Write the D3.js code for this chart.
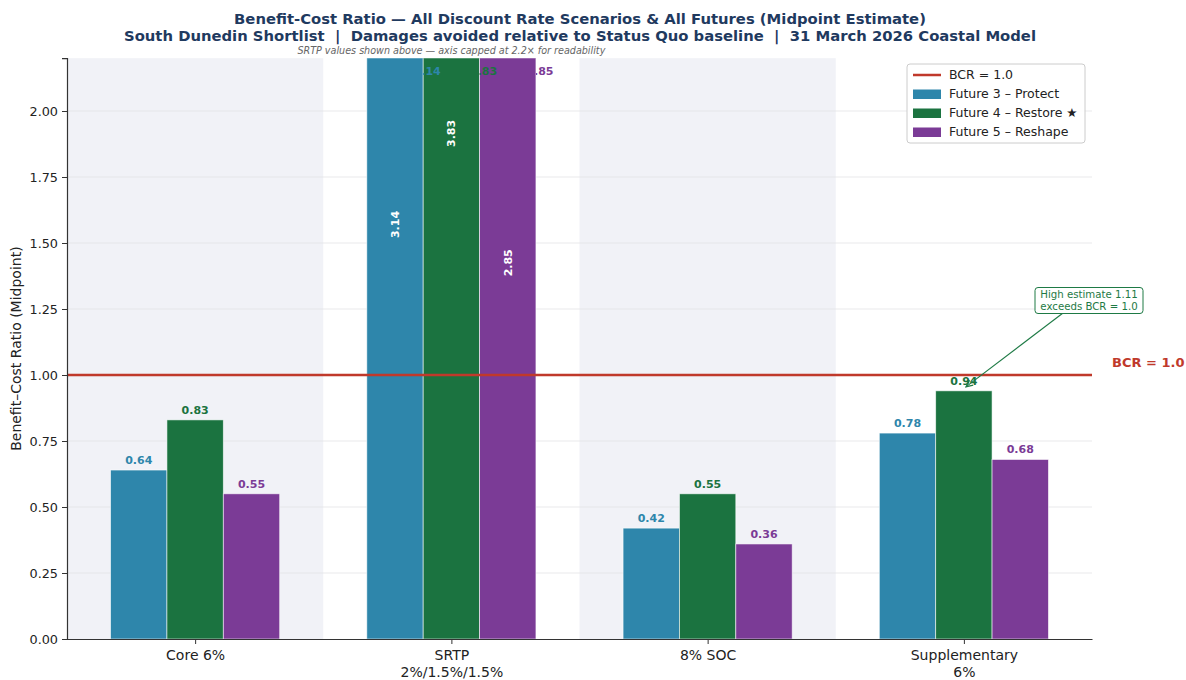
<!DOCTYPE html>
<html>
<head>
<meta charset="utf-8">
<script src="https://cdn.jsdelivr.net/npm/d3@7/dist/d3.min.js"></script>
<style>
  html, body { margin: 0; padding: 0; background: #fff; }
  svg { display: block; font-family: "DejaVu Sans", sans-serif; }
  .pre { white-space: pre; }
</style>
</head>
<body>
<svg id="chart" width="1186" height="680"></svg>
<script>
// Discount-rate scenarios (x categories) and futures (series)
const scenarios = ["Core 6%", "SRTP\n2%/1.5%/1.5%", "8% SOC", "Supplementary\n6%"];
const futures = ["Future 3 \u2013 Protect", "Future 4 \u2013 Restore \u2605", "Future 5 \u2013 Reshape"];
const futureColors = ["#2e86ab", "#1b7340", "#7b3b96"];

// Midpoint BCR per future, one value per scenario
const protectBCR = [0.64, 3.14, 0.42, 0.78];
const restoreBCR = [0.83, 3.83, 0.55, 0.94];
const reshapeBCR = [0.55, 2.85, 0.36, 0.68];
const seriesValues = [protectBCR, restoreBCR, reshapeBCR];

const yTicks = [0, 0.25, 0.5, 0.75, 1.0, 1.25, 1.5, 1.75, 2.0];
const yCap = 2.2;
const bcrThreshold = 1.0;
const highEstimate = 1.11;
const cappedScenario = 1;   // SRTP bars exceed the axis cap
const highlightScenario = 3; // Supplementary 6% — Restore high estimate

const svg = d3.select("#chart");
const defs = svg.append("defs");
const plot = { left: 67, right: 1092, top: 58.2, bottom: 639 };

const x = d3.scaleLinear().domain([-0.5, scenarios.length - 0.5]).range([plot.left, plot.right]);
const y = d3.scaleLinear().domain([0, yCap]).range([plot.bottom, plot.top]);
const barW = 0.22;
const offsets = [-barW, 0, barW];

defs.append("clipPath").attr("id", "plotClip")
  .append("rect").attr("x", plot.left).attr("y", plot.top)
  .attr("width", plot.right - plot.left).attr("height", plot.bottom - plot.top);

// Alternating background bands
svg.append("g").selectAll("rect")
  .data(scenarios.map((s, i) => i).filter(i => i % 2 === 0))
  .join("rect")
  .attr("x", i => x(i - 0.5))
  .attr("width", i => x(i + 0.5) - x(i - 0.5))
  .attr("y", plot.top)
  .attr("height", plot.bottom - plot.top)
  .attr("fill", "#f1f2f7");

// Gridlines
svg.append("g").selectAll("line")
  .data(yTicks.filter(t => t > 0))
  .join("line")
  .attr("x1", plot.left).attr("x2", plot.right)
  .attr("y1", d => y(d)).attr("y2", d => y(d))
  .attr("stroke", "#e3e3e6").attr("stroke-width", 0.8);

const marks = svg.append("g").attr("clip-path", "url(#plotClip)");

// Bars
futures.forEach((f, si) => {
  marks.append("g").selectAll("rect")
    .data(seriesValues[si].map((v, i) => ({ v, i })))
    .join("rect")
    .attr("x", d => x(d.i + offsets[si] - barW / 2))
    .attr("width", x(barW) - x(0))
    .attr("y", d => y(d.v))
    .attr("height", d => plot.bottom - y(d.v))
    .attr("fill", futureColors[si])
    .attr("stroke", "#ffffff").attr("stroke-opacity", 0.7).attr("stroke-width", 0.8);
});

// Capped value labels for SRTP: sit at the top edge, just past each bar, cut at the bar's edge
futures.forEach((f, si) => {
  const v = seriesValues[si][cappedScenario];
  const cx = cappedScenario + offsets[si];
  const edge = x(cx + barW / 2);
  defs.append("clipPath").attr("id", "capClip" + si)
    .append("rect").attr("x", edge).attr("y", plot.top)
    .attr("width", 200).attr("height", 60);
  marks.append("text")
    .attr("clip-path", `url(#capClip${si})`)
    .attr("x", edge + 4)
    .attr("y", y(2.15))
    .attr("dy", "0.35em")
    .attr("text-anchor", "middle")
    .attr("font-size", 11).attr("font-weight", "bold")
    .attr("fill", futureColors[si])
    .text(v.toFixed(2));
});

// Value labels
futures.forEach((f, si) => {
  seriesValues[si].forEach((v, i) => {
    const cx = x(i + offsets[si]);
    if (i === cappedScenario) {
      const ly = y(v / 2);
      marks.append("text")
        .attr("transform", `translate(${cx},${ly}) rotate(-90)`)
        .attr("text-anchor", "middle").attr("dy", "0.35em")
        .attr("font-size", 11).attr("font-weight", "bold")
        .attr("fill", "#ffffff")
        .text(v.toFixed(2));
    } else {
      marks.append("text")
        .attr("x", cx).attr("y", y(v) - 6)
        .attr("text-anchor", "middle")
        .attr("font-size", 11).attr("font-weight", "bold")
        .attr("fill", futureColors[si])
        .text(v.toFixed(2));
    }
  });
});

// BCR = 1.0 threshold
svg.append("line")
  .attr("x1", plot.left).attr("x2", plot.right)
  .attr("y1", y(bcrThreshold)).attr("y2", y(bcrThreshold))
  .attr("stroke", "#c0392b").attr("stroke-width", 2.5);
svg.append("text")
  .attr("x", plot.right + 20).attr("y", y(bcrThreshold) - 13)
  .attr("dy", "0.35em")
  .attr("font-size", 13).attr("font-weight", "bold")
  .attr("fill", "#c0392b")
  .text("BCR = " + bcrThreshold.toFixed(1));

// Axes
const yAxis = d3.axisLeft(y).tickValues(yTicks).tickFormat(d3.format(".2f")).tickSize(5).tickPadding(4);
const gy = svg.append("g").attr("transform", `translate(${plot.left},0)`).call(yAxis);
gy.select(".domain").attr("stroke", "#333").attr("stroke-width", 1.2);
gy.selectAll(".tick line").attr("stroke", "#333");
gy.selectAll(".tick text").attr("font-size", 12.8).attr("fill", "#222").attr("font-family", "DejaVu Sans");

const xAxis = d3.axisBottom(x).tickValues(scenarios.map((s, i) => i)).tickFormat(() => "").tickSize(5).tickSizeOuter(0);
const gx = svg.append("g").attr("transform", `translate(0,${plot.bottom})`).call(xAxis);
gx.select(".domain").attr("stroke", "#333").attr("stroke-width", 1.2);
gx.selectAll(".tick line").attr("stroke", "#333");
gx.selectAll(".tick").each(function (d) {
  const lines = scenarios[d].split("\n");
  const t = d3.select(this).append("text")
    .attr("text-anchor", "middle").attr("font-size", 14).attr("fill", "#222")
    .attr("font-family", "DejaVu Sans");
  lines.forEach((ln, k) => t.append("tspan").attr("x", 0).attr("y", 21 + k * 16.5).text(ln));
});

// Y axis title
svg.append("text")
  .attr("transform", `translate(21,${(plot.top + plot.bottom) / 2}) rotate(-90)`)
  .attr("text-anchor", "middle")
  .attr("font-size", 14).attr("fill", "#222")
  .text("Benefit\u2013Cost Ratio (Midpoint)");

// Titles
const titleColor = "#1f3a5f";
svg.append("text").attr("x", 580).attr("y", 24)
  .attr("text-anchor", "middle").attr("font-size", 14.8).attr("font-weight", "bold").attr("fill", titleColor)
  .text("Benefit-Cost Ratio \u2014 All Discount Rate Scenarios & All Futures (Midpoint Estimate)");
svg.append("text").attr("class", "pre").attr("x", 580).attr("y", 41)
  .attr("text-anchor", "middle").attr("font-size", 14.8).attr("font-weight", "bold").attr("fill", titleColor)
  .text("South Dunedin Shortlist  |  Damages avoided relative to Status Quo baseline  |  31 March 2026 Coastal Model");
svg.append("text").attr("x", x(cappedScenario)).attr("y", 54)
  .attr("text-anchor", "middle").attr("font-size", 9.6).attr("font-style", "italic").attr("fill", "#666")
  .text("SRTP values shown above \u2014 axis capped at 2.2\u00d7 for readability");

// High-estimate annotation
const annGreen = "#1e7a45";
const annX = 1089, annY = 300;
const tipX = x(highlightScenario), tipY = y(restoreBCR[highlightScenario] + 0.015);
defs.append("marker")
  .attr("id", "arrowHead").attr("viewBox", "0 0 10 10").attr("refX", 9).attr("refY", 5)
  .attr("markerWidth", 7).attr("markerHeight", 7).attr("orient", "auto-start-reverse")
  .append("path").attr("d", "M0,1 L9,5 L0,9").attr("fill", "none").attr("stroke", annGreen).attr("stroke-width", 1.4);
svg.append("line")
  .attr("x1", annX - 26).attr("y1", annY + 13)
  .attr("x2", tipX + 2).attr("y2", tipY)
  .attr("stroke", annGreen).attr("stroke-width", 1.1)
  .attr("marker-end", "url(#arrowHead)");
svg.append("rect")
  .attr("x", annX - 54).attr("y", annY - 12.5).attr("width", 108).attr("height", 26)
  .attr("rx", 3).attr("fill", "#fff").attr("stroke", annGreen).attr("stroke-width", 1);
const annText = svg.append("text").attr("text-anchor", "middle").attr("font-size", 10.2).attr("fill", annGreen);
annText.append("tspan").attr("x", annX).attr("y", annY - 2).text("High estimate " + highEstimate.toFixed(2));
annText.append("tspan").attr("x", annX).attr("y", annY + 9.5).text("exceeds BCR = " + bcrThreshold.toFixed(1));

// Legend
const lg = svg.append("g").attr("transform", "translate(907,64)");
lg.append("rect").attr("width", 178).attr("height", 79).attr("rx", 3)
  .attr("fill", "#fff").attr("fill-opacity", 0.9).attr("stroke", "#cccccc");
const legendItems = [{ label: "BCR = " + bcrThreshold.toFixed(1), color: "#c0392b", line: true }]
  .concat(futures.map((f, i) => ({ label: f, color: futureColors[i], line: false })));
legendItems.forEach((it, k) => {
  const cy = 11 + k * 19;
  if (it.line) {
    lg.append("line").attr("x1", 6).attr("x2", 34).attr("y1", cy).attr("y2", cy)
      .attr("stroke", it.color).attr("stroke-width", 2.5);
  } else {
    lg.append("rect").attr("x", 6).attr("y", cy - 4.5).attr("width", 28).attr("height", 9.5)
      .attr("fill", it.color);
  }
  lg.append("text").attr("x", 42).attr("y", cy).attr("dy", "0.35em")
    .attr("font-size", 12.5).attr("fill", "#222").text(it.label);
});
</script>
</body>
</html>
